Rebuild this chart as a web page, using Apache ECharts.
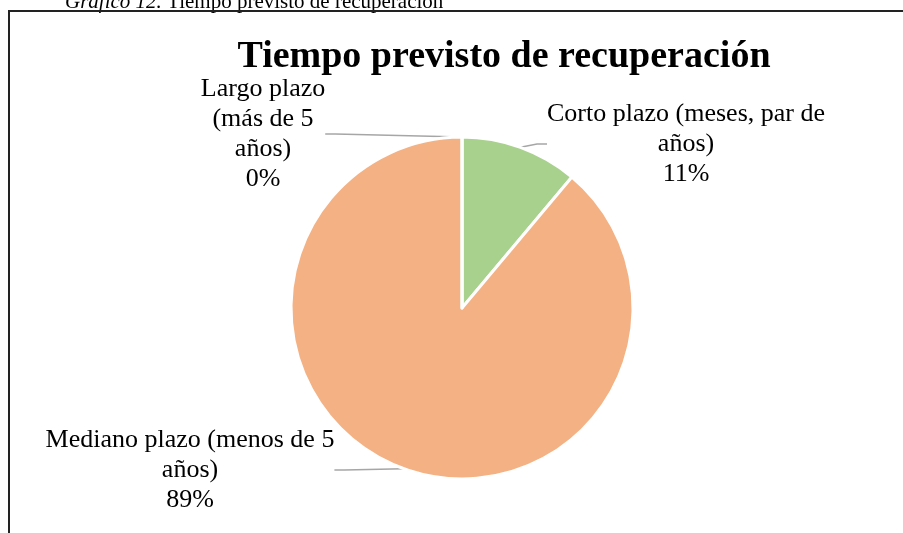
<!DOCTYPE html>
<html>
<head>
<meta charset="utf-8">
<script src="https://cdn.jsdelivr.net/npm/echarts@6/dist/echarts.min.js"></script>
<style>
  html, body { margin: 0; padding: 0; background: #fff; }
  #main { width: 903px; height: 533px; }
</style>
</head>
<body>
<div id="main"></div>
<script>
// datos del gráfico
var titleText = 'Tiempo previsto de recuperación';
var categories = ['Corto plazo (meses, par de años)', 'Mediano plazo (menos de 5 años)', 'Largo plazo (más de 5 años)'];
var wrappedNames = ['Corto plazo (meses, par de\naños)', 'Mediano plazo (menos de 5\naños)', 'Largo plazo\n(más de 5\naños)'];
var values = [1, 8, 0];
var colors = ['#A9D18E', '#F4B183', '#9DC3E6'];

// posiciones de las etiquetas (centro del bloque de texto)
var labelPos = [
  [686, 144],
  [190, 470],
  [263, 134]
];

var chart = echarts.init(document.getElementById('main'));

var option = {
  backgroundColor: '#fff',
  animation: false,
  title: {
    text: titleText,
    left: 499,
    top: 33,
    textAlign: 'center',
    textStyle: {
      fontFamily: 'Liberation Serif',
      fontSize: 38,
      fontWeight: 'bold',
      color: '#000'
    }
  },
  graphic: [{
    type: 'rect',
    shape: { x: 9, y: 11, width: 1000, height: 1000 },
    style: { fill: 'none', stroke: '#222', lineWidth: 2 }
  }, {
    type: 'text',
    x: 65,
    y: 13,
    z: -1,
    style: {
      text: '{i|Gráfico 12.} Tiempo previsto de recuperación',
      fontFamily: 'Liberation Serif',
      fontSize: 21,
      fill: '#000',
      verticalAlign: 'bottom',
      rich: {
        i: { fontStyle: 'italic', fontFamily: 'Liberation Serif', fontSize: 21 }
      }
    }
  }],
  series: [{
    type: 'pie',
    center: [462, 308],
    radius: [0, 171],
    startAngle: 90,
    clockwise: true,
    avoidLabelOverlap: false,
    itemStyle: {
      borderColor: '#fff',
      borderWidth: 3
    },
    label: {
      show: true,
      fontFamily: 'Liberation Serif',
      fontSize: 26,
      lineHeight: 30,
      color: '#000',
      align: 'center',
      formatter: function (p) {
        return wrappedNames[p.dataIndex] + '\n' + Math.round(p.percent) + '%';
      }
    },
    labelLine: {
      show: true,
      length: 10,
      length2: 10,
      lineStyle: { color: '#a6a6a6', width: 1.5 }
    },
    labelLayout: function (params) {
      var pos = labelPos[params.dataIndex];
      return {
        x: pos[0],
        y: pos[1],
        align: 'center',
        verticalAlign: 'middle'
      };
    },
    data: categories.map(function (name, i) {
      return { name: name, value: values[i], itemStyle: { color: colors[i] } };
    })
  }]
};

chart.setOption(option);
</script>
</body>
</html>
